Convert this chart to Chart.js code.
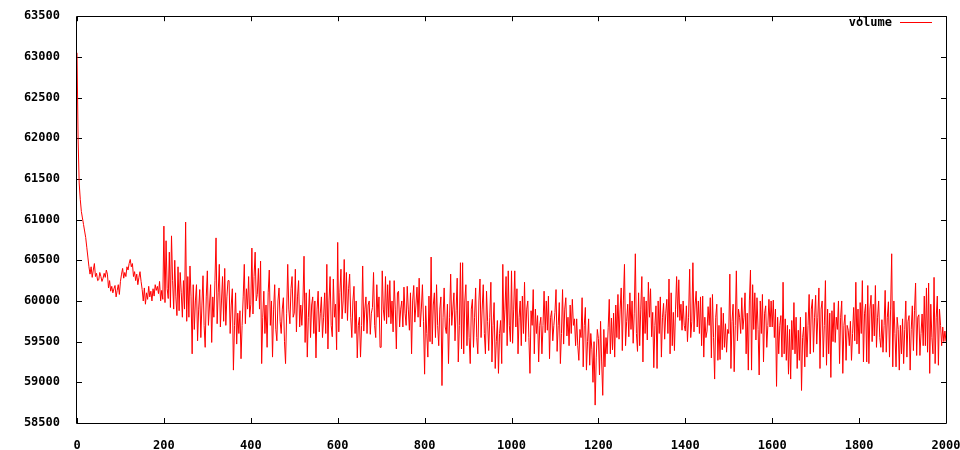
<!DOCTYPE html>
<html>
<head>
<meta charset="utf-8">
<script src="https://cdn.jsdelivr.net/npm/chart.js@4.4.1/dist/chart.umd.min.js"></script>
<style>
  html, body { margin: 0; padding: 0; background: #fff; }
  #wrap { width: 960px; height: 450px; }
</style>
</head>
<body>
<div id="wrap"><canvas id="volumeChart" width="960" height="450"></canvas></div>
<script>
// one sample every 2.5 steps
var volume0 = [
  63050, 62000, 61450, 61250, 61100, 61020, 60940, 60860, 60780, 60660,
  60540, 60420, 60330, 60420, 60290, 60380, 60460, 60300, 60340, 60250,
  60260, 60350, 60300, 60240, 60280, 60340, 60290, 60380, 60330, 60160,
  60250, 60120, 60180, 60100, 60150, 60190, 60050, 60130, 60200, 60080,
  60240, 60330, 60400, 60280, 60350, 60300, 60420, 60380, 60460, 60510,
  60420, 60460, 60300, 60360, 60250, 60330, 60200, 60290, 60360, 60240,
  60140, 60000, 60160, 59960, 60100, 60020, 60180, 60050, 60120, 60000,
  60150, 60060, 60200, 60130, 60180, 60090, 60240, 60000, 60130, 60020,
  60920, 59980, 60740, 60150, 60030, 60600, 59920, 60800, 60250, 59900,
  60500, 60050, 59820, 60420, 59880, 60350, 60100, 59800, 60250, 59900,
  60970, 59750, 60300, 59800, 60430, 60050, 59350, 60200, 59650, 60000,
  60200, 59510, 59900, 60140, 59550, 59950, 60310, 59700, 59430, 60050,
  60370, 59700, 59950, 60200, 59490, 60050, 59800, 60250, 60775, 59720,
  60100, 60450, 59680, 60000, 60300, 59750, 60400, 59700, 60050, 60250,
  60250, 59600, 59950, 60150, 59150, 59700, 60100, 59470, 59850, 59600,
  59880, 59290, 59700, 60050, 60450, 59720, 60150, 59900, 60300, 59800,
  59960, 60650, 59840, 60300, 60600, 60000, 60080, 60400, 59900, 60490,
  59230, 59800, 60120, 59600, 59950, 59430, 60100, 60380, 59700, 60000,
  59310, 59900, 60200, 59650, 59510, 60000, 60160, 59750, 59600, 59900,
  60040, 59500, 59230, 59850, 60450, 59900, 59720, 60150, 60300, 59800
];
var volume500 = [
  59850, 60390, 59620, 60050, 60250, 59680, 59950, 59700, 60000, 60550,
  59490, 60100, 59310, 59800, 60140, 59550, 59950, 60050, 59600, 60000,
  59300, 59900, 60120, 59620, 59850, 60050, 59550, 59800, 60100, 59600,
  60450, 59410, 60000, 60300, 59700, 59560, 60270, 59800, 59960, 59400,
  60720, 59620, 60100, 60390, 59780, 60000, 60510, 59850, 60350, 59760,
  60150, 60330, 59800, 59550, 60000, 60180, 59600, 60000, 59300, 59700,
  59800, 59310, 59700, 60430, 59630, 59900, 60050, 59600, 59950, 60000,
  59590, 59850, 59920, 60350, 59700, 59550, 60200, 59800, 60050, 59430,
  59430, 60370, 59900, 59760, 60300, 59720, 60200, 59800, 60250, 59720,
  60000, 59620, 60250, 59900, 59410, 60100, 60120, 59680, 59900, 60000,
  59680, 60170, 59850, 59700, 60180, 59900, 59640, 60100, 59350, 60000,
  60190, 59740, 59950, 60170, 59800, 60280, 59680, 59900, 60200, 59750,
  59100, 59940, 59600, 59310, 60060, 59500, 60540, 59470, 59950, 60100,
  59550, 60200, 59700, 59450, 59900, 60050, 58960, 59800, 60160, 59680,
  59600, 59960, 59230, 59800, 60330, 59700, 59900, 60100, 59510, 59880,
  60280, 59250, 59700, 60470, 59410, 60470, 59350, 60000, 60200, 59450,
  60000, 59550, 59230, 59900, 60020, 59430, 59800, 60160, 59550, 59350,
  60000, 60270, 59550, 59900, 60200, 59600, 59350, 60120, 59750, 59390,
  59800, 60230, 59250, 59700, 59980, 59170, 59500, 59760, 59110, 59600,
  59760, 59230, 60450, 59610, 59900, 60300, 59450, 60370, 59700, 59500
];
var volume1000 = [
  60370, 59480, 59900, 60370, 59680, 60150, 59350, 59800, 60000, 59450,
  60060, 59600, 60230, 59500, 59900, 60000, 59550, 59110, 59880, 59700,
  60140, 59350, 59900, 59600, 59820, 59250, 59700, 59800, 59350, 59700,
  60120, 59610, 60000, 59640, 60060, 59290, 59800, 59880, 59510, 59700,
  59860, 60140, 59380, 59700, 59980, 59230, 59600, 60140, 59470, 59900,
  60040, 59570, 59800, 59450, 59950, 59600, 60020, 59700, 59780, 59450,
  59780, 59450, 59270, 59650, 59550, 60040, 59190, 59700, 59920, 59150,
  59500, 59780, 59210, 59600, 59400, 59000, 59500, 58720, 59300, 59650,
  59540, 59090, 59750, 59250, 58840, 59650, 59190, 59550, 59350, 59670,
  60020, 59350, 59790, 59400, 59850, 59310, 59950, 59550, 60080, 59530,
  59900, 60160, 59390, 60000, 60450, 59450, 59750, 59960, 59560, 60100,
  59650, 60000, 59480, 59850, 60580, 59600, 59380, 60100, 59450, 59900,
  60300, 59250, 60050, 59600, 60000, 59520, 60230, 59800, 60150, 59560,
  59860, 59180, 59700, 59940, 59170, 60000, 59600, 60050, 59310, 59800,
  59970, 59530, 59850, 60020, 59600, 60270, 59350, 60100, 59450, 59860,
  59390, 59900, 60300, 59800, 60260, 59760, 59960, 59640, 60000, 59700,
  59630, 59940, 59500, 59800, 60390, 59550, 59750, 60470, 59620, 59950,
  60120, 59680, 60000, 59600, 60050, 59450, 60060, 59310, 59800, 59550,
  59630, 59930, 59700, 60040, 59300, 60080, 59550, 59040, 59800, 59960,
  59270, 59700, 59280, 59920, 59400, 59850, 59430, 59720, 59370, 59650
];
var volume1500 = [
  59600, 60330, 59170, 59750, 59960, 59130, 59700, 60370, 59510, 59900,
  59800, 59600, 60040, 59650, 59800, 60100, 59350, 59850, 59150, 60000,
  60380, 59150, 60200, 59650, 60100, 59520, 60040, 59650, 59090, 60000,
  59600, 60080, 59250, 59850, 59940, 59430, 59700, 60020, 59680, 60000,
  59680, 60010, 59550, 59900, 58950, 59800, 59350, 59700, 59820, 59310,
  60230, 59350, 59780, 59270, 59700, 59100, 59650, 59040, 59760, 59400,
  59980, 59350, 59800, 59170, 59640, 59270, 59800, 58900, 59550, 59680,
  59190, 59860, 59310, 59700, 60080, 59350, 59900, 60020, 59370, 59800,
  60070, 59470, 59800, 60160, 59170, 59900, 60000, 59310, 59700, 60250,
  59210, 59900, 59350, 59850, 59060, 59880, 59500, 59980, 59490, 59800,
  59650, 60000, 59230, 59800, 60000, 59110, 59700, 59830, 59270, 59700,
  59640, 59450, 59750, 59270, 59600, 59920, 59510, 60230, 59470, 59900,
  59350, 59980, 59600, 60250, 59250, 59850, 59960, 59250, 60190, 59230,
  59900, 60070, 59500, 59960, 59570, 60190, 59430, 59800, 60000, 59550,
  59430, 59770, 59370, 59700, 60130, 59370, 59800, 59990, 59310, 59900,
  60580, 59190, 60000, 59600, 59190, 59800, 59650, 59150, 59700, 59350,
  59780, 59230, 59650, 60000, 59310, 59750, 59820, 59150, 59650, 59940,
  59390, 59880, 60220, 59330, 59800, 59830, 59330, 59600, 59840, 59450,
  60060, 59450, 60160, 59370, 60220, 59110, 59960, 59550, 59350, 60290,
  59230, 59800, 60060, 59210, 59900, 59700, 59450, 59680, 59500, 59630,
  59500
];
var volume = volume0.concat(volume500, volume1000, volume1500);
var steps = volume.map(function (v, i) { return i * 2.5; });

var xTicks = [0, 200, 400, 600, 800, 1000, 1200, 1400, 1600, 1800, 2000];
var yTicks = [58500, 59000, 59500, 60000, 60500, 61000, 61500, 62000, 62500, 63000, 63500];

var points = [];
for (var i = 0; i < volume.length; i++) {
  points.push({ x: steps[i], y: volume[i] });
}

Chart.defaults.font.family = "'DejaVu Sans Mono', monospace";
Chart.defaults.font.size = 12;
Chart.defaults.font.weight = 'bold';
Chart.defaults.color = '#000';

// gnuplot style frame: box + inward ticks on all four sides, then the key on top
const framePlugin = {
  id: 'frame',
  beforeDatasetsDraw(chart) {
    const ctx = chart.ctx;
    const a = chart.chartArea;
    const xs = chart.scales.x, ys = chart.scales.y;
    const t = 5;
    ctx.save();
    ctx.strokeStyle = '#000';
    ctx.lineWidth = 1;
    ctx.beginPath();
    ctx.rect(Math.round(a.left) - 0.5, Math.round(a.top) + 0.5,
             Math.round(a.right - a.left) + 1, Math.round(a.bottom - a.top));
    xTicks.forEach(function (v) {
      const px = Math.round(xs.getPixelForValue(v)) + 0.5;
      ctx.moveTo(px, a.bottom); ctx.lineTo(px, a.bottom - t);
      ctx.moveTo(px, a.top); ctx.lineTo(px, a.top + t);
    });
    yTicks.forEach(function (v) {
      const py = Math.round(ys.getPixelForValue(v)) + 0.5;
      ctx.moveTo(a.left, py); ctx.lineTo(a.left + t, py);
      ctx.moveTo(a.right, py); ctx.lineTo(a.right - t, py);
    });
    ctx.stroke();
    ctx.restore();
  },
  afterDraw(chart) {
    const ctx = chart.ctx;
    ctx.save();
    ctx.font = "bold 12px 'DejaVu Sans Mono', monospace";
    ctx.fillStyle = '#000';
    ctx.textAlign = 'right';
    ctx.textBaseline = 'middle';
    ctx.fillText('volume', 892, 23);
    ctx.strokeStyle = '#ff0000';
    ctx.lineWidth = 1;
    ctx.beginPath();
    ctx.moveTo(900, 22.5); ctx.lineTo(932, 22.5);
    ctx.stroke();
    ctx.restore();
  }
};

const config = {
  type: 'line',
  data: {
    datasets: [{
      label: 'volume',
      data: points,
      borderColor: '#ff0000',
      borderWidth: 1,
      pointRadius: 0,
      tension: 0,
      fill: false
    }]
  },
  options: {
    responsive: false,
    animation: false,
    layout: { padding: { left: 0, top: 14, right: 14, bottom: 0 } },
    plugins: {
      legend: { display: false },
      tooltip: { enabled: false }
    },
    scales: {
      x: {
        type: 'linear',
        min: 0,
        max: 2000,
        afterBuildTicks: function (s) { s.ticks = xTicks.map(function (v) { return { value: v }; }); },
        afterFit: function (s) { s.height = 27; s.paddingLeft = 0; s.paddingRight = 0; },
        grid: { display: false },
        border: { display: false },
        ticks: { padding: 8, maxRotation: 0, autoSkip: false, callback: function (v) { return String(v); } }
      },
      y: {
        min: 58500,
        max: 63500,
        afterBuildTicks: function (s) { s.ticks = yTicks.map(function (v) { return { value: v }; }); },
        afterFit: function (s) { s.width = 77; },
        grid: { display: false },
        border: { display: false },
        ticks: { padding: 9, autoSkip: false, callback: function (v) { return String(v); } }
      }
    }
  },
  plugins: [framePlugin]
};

const volumeChart = new Chart(document.getElementById('volumeChart').getContext('2d'), config);
</script>
</body>
</html>
